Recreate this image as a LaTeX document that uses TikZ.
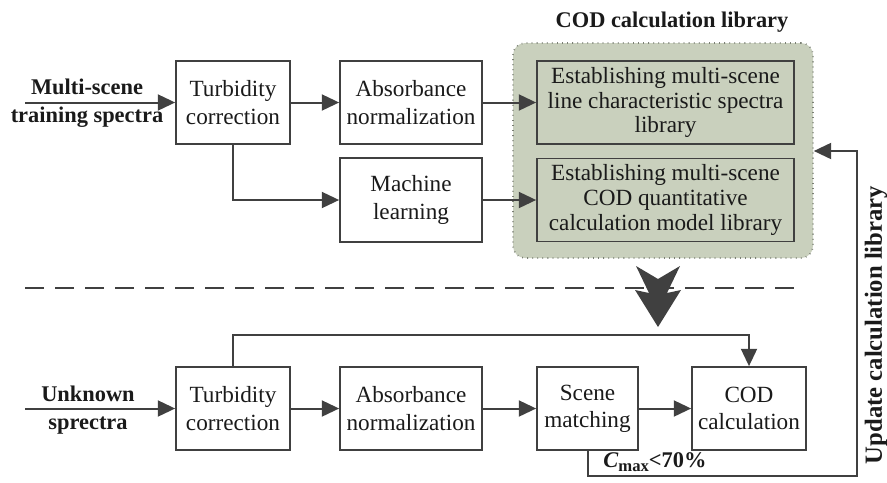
\documentclass[tikz,border=0pt]{standalone}
\usepackage{fontspec}
\setmainfont{Liberation Serif}
\usetikzlibrary{arrows.meta,calc}
\definecolor{ln}{HTML}{404040}
\definecolor{libfill}{HTML}{C9D0BD}
\definecolor{libdot}{HTML}{7A7F74}
\definecolor{txt}{HTML}{1A1A1A}
\begin{document}
\begin{tikzpicture}[x=0.75pt,y=-0.75pt,
  box/.style={draw=ln,line width=1.3pt,fill=white,inner sep=0pt,align=center,
    font=\fontsize{17.4}{20.5}\selectfont,text=txt},
  libbox/.style={box,fill=libfill,font=\fontsize{17.4}{18.5}\selectfont},
  arr/.style={draw=ln,line width=1.5pt,-{Triangle[length=13pt,width=12pt]}},
  lbl/.style={font=\fontsize{16.8}{21}\selectfont\bfseries,align=center,text=txt,inner sep=0pt}]
\useasboundingbox (0,0) rectangle (887,482);

% COD library background
\node[draw=libdot,line width=1.2pt,dash pattern=on 0.6pt off 3.2pt,fill=libfill,
  rounded corners=9pt,minimum width=225pt,minimum height=161.25pt,inner sep=0pt] (Lib) at (663,150.5) {};
\node[lbl] (LibT) at (672,22) {COD calculation library};

% top row
\node[box,minimum width=85.5pt,minimum height=62.25pt] (T1) at (233,102.5) {Turbidity\\correction};
\node[box,minimum width=106.5pt,minimum height=62.25pt] (A1) at (411,102.5) {Absorbance\\normalization};
\node[box,minimum width=106.5pt,minimum height=63pt] (ML) at (411,200) {Machine\\learning};
\node[libbox,minimum width=192.75pt,minimum height=62.25pt] (L1) at (665.5,102.5) {Establishing multi-scene\\line characteristic spectra\\library};
\node[libbox,minimum width=192.75pt,minimum height=62.25pt] (L2) at (665.5,200) {Establishing multi-scene\\COD quantitative\\calculation model library};

\coordinate (in1) at (25,102.5);
\node[lbl] (Lin1) at (87,103) {Multi-scene\\training spectra};
\draw[arr] (in1) -- (T1.west);
\draw[arr] (T1.east) -- (A1.west);
\draw[arr] (T1.south) |- (ML.west);
\draw[arr] (A1.east) -- (L1.west);
\draw[arr] (ML.east) -- (L2.west);

% dashed separator
\coordinate (dl) at (25,288);
\coordinate (dr) at (802,288);
\draw[ln,line width=1.6pt,dash pattern=on 14pt off 8.5pt] (dl) -- (dr);

% double chevron
\fill[ln] (636,266) -- (658,279) -- (680,266) -- (667,293) -- (681,290)
  -- (658,327) -- (635,290) -- (649,293) -- cycle;

% bottom row
\node[box,minimum width=85.5pt,minimum height=62.25pt] (T2) at (233,408.5) {Turbidity\\correction};
\node[box,minimum width=106.5pt,minimum height=62.25pt] (A2) at (411,408.5) {Absorbance\\normalization};
\node[box,minimum width=75.75pt,minimum height=62.25pt] (S) at (587.5,408.5) {Scene\\matching};
\node[box,minimum width=85.5pt,minimum height=62.25pt] (C) at (749,408.5) {COD\\calculation};

\coordinate (in2) at (25,408.5);
\node[lbl] (Lin2) at (88,410) {Unknown\\sprectra};
\draw[arr] (in2) -- (T2.west);
\draw[arr] (T2.east) -- (A2.west);
\draw[arr] (A2.east) -- (S.west);
\draw[arr] (S.east) -- (C.west);

\coordinate (k) at (749,335);
\draw[arr] (T2.north) |- (k) -- (C.north);

% feedback
\coordinate (fbb) at (857,476);
\coordinate (fbt) at (857,151);
\draw[arr] (S.south) |- (fbb) -- (fbt) -- (fbt -| Lib.east);
\node[lbl] (Cm) at (655,462) {{\itshape C}\raisebox{-0.35ex}{\fontsize{12.5}{12.5}\selectfont\bfseries max}<70\%};
\node[lbl,rotate=90,font=\fontsize{18.5}{20}\selectfont\bfseries] (Up) at (876,325) {Update calculation library};
\end{tikzpicture}
\end{document}
